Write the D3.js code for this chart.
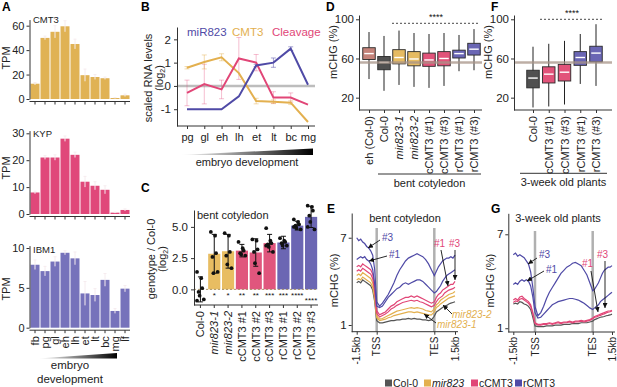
<!DOCTYPE html>
<html><head><meta charset="utf-8">
<script src="https://cdn.jsdelivr.net/npm/d3@7"></script>
<style>
body{margin:0;background:#fff;}
svg{font-family:"Liberation Sans",Arial,sans-serif;}
</style></head><body>
<svg id="c" width="617" height="387"></svg>
<script>
// ================= DATA =================
// Panel A
const stagesA = ["fb","pg","gl","eh","lh","et","lt","bc","mg","lf"];
const cmt3TPM    = [12.5,50,55,59.5,45,19.5,18,17,0.8,3];
const cmt3TPMErr = [1,1.5,5,4.5,4,5,2,1,0.3,1];
const kypTPM     = [8,21,21,28,22,12,10.5,9,0.5,1.5];
const kypTPMErr  = [0.5,0.7,1,1,1,2,1.5,1.5,0.2,0.4];
const ibm1TPM    = [7.9,7.1,8.3,9.4,8.7,4.3,4.1,6.0,2.1,4.9];
const ibm1TPMErr = [0.6,0.6,0.6,0.25,0.8,1.5,0.8,0.8,0.3,0.4];
const cmt3Ticks = [0,20,40,60];
const kypTicks  = [0,10,20,30];
const ibm1Ticks = [0,5,10];

// Panel B
const stagesB = ["pg","gl","eh","lh","et","lt","bc","mg"];
const miR823   = [-1,-1,-1,-0.45,0.88,1.0,1.6,0.05];
const miR823Err= [0,0,0,0,0.05,0.2,0.08,0];
const cmt3B    = [0.78,1.03,1.23,0.55,-0.65,-0.68,-0.72,-1.55];
const cmt3BErr = [0.05,0.3,0.15,0,0.12,0.08,0.08,0];
const cleavage = [-0.3,0.08,-0.15,1.18,1.0,-0.5,-0.5,-0.8];
const cleavErr = [0.55,0.85,0.4,0.9,0.35,0.25,0.2,0];
const bTicks = [-1,0,1,2];

// Panel C
const cCats = ["Col-0","mir823-1","mir823-2","cCMT3 #1","cCMT3 #2","cCMT3 #3","rCMT3 #1","rCMT3 #2","rCMT3 #3"];
const cMean = [0,2.85,3.05,3.1,2.95,3.7,3.75,5.1,5.8];
const cSD   = [1.0,1.55,1.35,0.5,1.1,0.7,0.5,0.35,0.85];
const cPoints = [
  [1.4,0.9,0.1,-0.2,-0.5,-0.8,-0.9],
  [4.6,4.3,2.9,2.6,1.3,1.4],
  [4.5,4.3,3.0,2.7,2.0,1.7],
  [3.8,3.3,3.1,2.9,2.8,2.7],
  [4.0,3.9,3.2,3.0,2.1,1.3],
  [4.9,3.9,3.7,3.6,3.4,3.0,3.5],
  [4.1,3.9,3.8,3.7,3.5,3.5],
  [5.6,5.4,5.2,5.1,4.9,4.8,5.0],
  [6.7,6.6,6.3,5.9,5.4,4.8,5.0]
];
const cStars = ["","*","*","**","**","***","***","****","****"];
const cTicks = [0,2.5,5];

// Panel D
const dCats = ["eh (Col-0)","Col-0","mir823-1","mir823-2","cCMT3 (#1)","cCMT3 (#3)","rCMT3 (#1)","rCMT3 (#3)"];
const dMed = [65,56,61,59.5,58.5,60,65,69.5];
const dQ1  = [59,48.5,54.5,52.5,52,52.5,60.5,63.5];
const dQ3  = [71,62,69,67,65.5,67,68.5,75.5];
const dLo  = [39,27,33,31,30,32,47,48];
const dHi  = [87,83,88.5,86,85,86,84,90];

// Panel F
const fCats = ["Col-0","cCMT3 (#1)","cCMT3 (#3)","rCMT3 (#1)","rCMT3 (#3)"];
const fMed = [40,44,46,61,65.5];
const fQ1  = [30,35,37,53,56.5];
const fQ3  = [48,51.5,54,67,72.5];
const fLo  = [10,11,13,34,32];
const fHi  = [72,75,78,85,95];
const mchgTicks = [20,60,100];
const colMedianRef = 56;

// Panels E / G : metaplot bins (0 = -1.5kb, 10 = TSS, 30 = TES, 40 = +1.5kb)
const profileTickPos = [0,10,30,40];
const profileTicks = ["-1.5kb","TSS","TES","1.5kb"];
const eCol0   = [3.9,4.0,3.9,4.1,4.0,3.9,3.8,3.7,3.4,2.6,1.3, 1.15,1.15,1.2,1.25,1.3,1.3,1.35,1.35,1.4,1.4,1.45,1.4,1.45,1.4,1.4,1.35,1.35,1.3,1.35, 1.6, 1.9,2.0,2.1,2.2,2.3,2.35,2.45,2.5,2.55,2.6];
const eMir1   = [4.1,4.2,4.1,4.3,4.2,4.1,4.0,3.9,3.6,2.8,1.5, 1.3,1.35,1.4,1.5,1.55,1.65,1.7,1.75,1.8,1.85,1.9,1.9,1.85,1.9,1.85,1.8,1.75,1.7,1.7, 1.9, 2.2,2.3,2.45,2.55,2.65,2.75,2.85,2.9,2.95,3.0];
const eMir2   = [4.4,4.5,4.4,4.6,4.5,4.4,4.3,4.2,3.9,3.0,1.6, 1.4,1.45,1.55,1.65,1.75,1.85,1.95,2.0,2.05,2.1,2.15,2.2,2.15,2.2,2.15,2.1,2.0,1.95,1.9, 2.1, 2.4,2.5,2.7,2.8,2.9,3.0,3.1,3.15,3.2,3.3];
const eC1     = [4.7,4.8,4.7,4.9,4.8,4.7,4.6,4.5,4.2,3.3,1.8, 1.55,1.65,1.75,1.9,2.1,2.2,2.35,2.45,2.55,2.6,2.65,2.7,2.65,2.7,2.6,2.55,2.45,2.35,2.25, 2.35, 2.6,2.8,2.9,3.0,3.2,3.3,3.4,3.45,3.5,3.6];
const eC3     = [5.0,5.1,5.0,5.2,5.1,5.0,4.9,4.8,4.5,3.6,2.0, 1.7,1.8,1.9,2.1,2.3,2.4,2.6,2.7,2.8,2.9,2.9,3.0,2.9,3.0,2.9,2.8,2.7,2.6,2.5, 2.6, 2.9,3.1,3.2,3.4,3.5,3.6,3.7,3.8,3.8,4.0];
const eR1     = [5.5,5.6,5.7,5.6,5.7,5.5,5.4,5.2,4.8,3.8,2.3, 2.2,2.3,2.6,2.9,3.1,3.3,3.5,3.6,3.8,3.9,3.8,3.9,4.0,4.1,4.1,4.0,3.8,3.6,3.4, 3.2, 3.3,3.5,3.7,4.0,4.2,4.4,4.5,4.6,4.7,4.8];
const eR3     = [7.0,6.8,6.9,6.7,6.6,6.4,6.3,6.1,5.8,4.8,2.6, 2.3,2.5,2.8,3.1,3.5,3.9,4.4,4.8,5.1,5.4,5.6,5.7,5.8,5.9,5.8,5.7,5.5,5.2,4.8, 4.4, 4.7,5.0,5.2,5.4,5.5,5.6,5.6,5.7,5.6,5.8];
const gCol0   = [2.55,2.6,2.55,2.7,2.65,2.55,2.5,2.4,2.2,1.7,1.15, 1.1,1.1,1.1,1.15,1.15,1.15,1.2,1.2,1.2,1.25,1.25,1.25,1.3,1.3,1.3,1.35,1.35,1.35,1.4, 1.45, 1.55,1.6,1.65,1.7,1.72,1.75,1.8,1.82,1.85,1.9];
const gC1     = [2.65,2.75,2.7,2.85,2.9,2.8,2.7,2.6,2.4,1.9,1.3, 1.2,1.2,1.25,1.25,1.3,1.25,1.3,1.35,1.3,1.35,1.35,1.4,1.35,1.4,1.4,1.45,1.4,1.45,1.5, 1.6, 1.7,1.72,1.78,1.82,1.88,1.92,1.98,2.02,2.05,2.1];
const gC3     = [2.8,2.9,2.8,3.0,3.05,2.9,2.8,2.7,2.5,2.0,1.35, 1.25,1.25,1.3,1.3,1.35,1.3,1.35,1.4,1.35,1.4,1.4,1.45,1.4,1.45,1.45,1.5,1.45,1.5,1.55, 1.65, 1.75,1.8,1.85,1.9,1.95,2.0,2.05,2.1,2.1,2.15];
const gR1     = [3.8,3.9,3.8,4.0,4.1,4.0,4.1,4.0,3.7,3.0,2.0, 1.65,1.7,1.9,2.1,2.3,2.5,2.6,2.7,2.75,2.8,2.85,2.9,2.9,2.85,2.8,2.7,2.6,2.45,2.3, 2.2, 2.3,2.4,2.5,2.7,2.8,2.9,3.0,3.1,3.2,3.3];
const gR3     = [5.7,5.8,5.6,5.7,5.6,5.5,5.3,5.1,4.6,3.6,2.4, 1.8,2.0,2.4,2.9,3.3,3.6,3.9,4.2,4.5,4.7,4.9,5.0,5.15,5.2,5.1,5.0,4.7,4.4,3.9, 3.4, 3.5,3.7,3.9,4.2,4.5,4.7,4.8,4.9,4.9,5.0];
const profileYTicks = [1,7];
const legendNames = ["Col-0","mir823","cCMT3","rCMT3"];

// ================= STYLE =================
const C = {
  gold:"#e3b04f", pink:"#e14677", blueLine:"#4f4aa6", gray:"#555555",
  aGold:"#e0b254", aPink:"#e0487a", aBlue:"#7672bb",
  cGold:"#e8bd62", cPink:"#e0567d", cBlue:"#6b66b3",
  boxEh:"#c5837a", boxCol:"#505050", boxGold:"#e6bb62", boxPink:"#e2537a", boxBlue:"#6a66b4"
};
const FONT = "'Liberation Sans', Arial, sans-serif";
const svg = d3.select("#c");
const defs = svg.append("defs");
const grad = defs.append("linearGradient").attr("id","wedge");
grad.append("stop").attr("offset","0%").attr("stop-color","#ffffff");
grad.append("stop").attr("offset","100%").attr("stop-color","#000000");
defs.append("marker").attr("id","arr").attr("viewBox","0 0 6 6").attr("refX",6).attr("refY",3)
  .attr("markerWidth",5).attr("markerHeight",5).attr("markerUnits","userSpaceOnUse").attr("orient","auto")
  .append("path").attr("d","M0,0L6,3L0,6Z").attr("fill","#111");

function styleAxis(g, fs){
  g.selectAll("text").attr("font-size",fs||11).attr("fill","#222").attr("font-family",FONT);
  g.selectAll("line").attr("stroke","#333");
  g.selectAll("path").attr("stroke","#333");
}
function txt(x,y,s,o){
  o=o||{};
  return svg.append("text").attr("x",x).attr("y",y).text(s)
    .attr("font-size",o.fs||11).attr("fill",o.fill||"#222").attr("text-anchor",o.anchor||"start")
    .attr("font-weight",o.bold?"bold":"normal").attr("font-style",o.italic?"italic":"normal");
}
function vtxt(x,y,s,o){
  o=o||{};
  return svg.append("text").attr("transform",`translate(${x},${y}) rotate(-90)`).text(s)
    .attr("font-size",o.fs||11).attr("fill",o.fill||"#222").attr("text-anchor",o.anchor||"middle")
    .attr("font-style",o.italic?"italic":"normal");
}
function log2Label(x, cy){
  const t = svg.append("text").attr("transform",`translate(${x},${cy+13}) rotate(-90)`)
    .attr("font-size",11).attr("fill","#222").attr("text-anchor","start");
  t.append("tspan").text("(log");
  t.append("tspan").text("2").attr("font-size",7).attr("dy",2);
  t.append("tspan").text(")").attr("dy",-2);
}
function isItalic(s){return /^mir823/.test(s);}

// ================= PANEL A =================
const xA = d3.scaleBand().domain(stagesA).range([30,130]).paddingInner(0.1).paddingOuter(0.05);
function panelA(name, vals, errs, ticks, y0, ppu, topVal, color, showX, nameY, tpmY){
  const y = d3.scaleLinear().domain([0,topVal]).range([y0, y0-topVal*ppu]);
  const g = svg.append("g");
  g.selectAll("rect").data(vals).join("rect")
    .attr("x",(d,i)=>xA(stagesA[i])).attr("width",xA.bandwidth())
    .attr("y",d=>y(d)).attr("height",d=>y(0)-y(d)).attr("fill",color);
  const eg = g.append("g").attr("stroke","#f6ecef").attr("stroke-width",1);
  vals.forEach((v,i)=>{
    const cx = xA(stagesA[i])+xA.bandwidth()/2;
    eg.append("line").attr("x1",cx).attr("x2",cx).attr("y1",y(v+errs[i])).attr("y2",y(Math.max(0,v-errs[i])));
    eg.append("line").attr("x1",cx-1.5).attr("x2",cx+1.5).attr("y1",y(v+errs[i])).attr("y2",y(v+errs[i]));
  });
  const ya = g.append("g").attr("transform","translate(29.5,0)")
    .call(d3.axisLeft(y).tickValues(ticks).tickSize(3).tickPadding(2).tickSizeOuter(0));
  styleAxis(ya,11);
  const xa = g.append("g").attr("transform",`translate(0,${y0+2.5})`)
    .call(d3.axisBottom(xA).tickSize(3).tickSizeOuter(0).tickPadding(3));
  styleAxis(xa,11);
  xa.select(".domain").attr("d",`M29.5,0H130`);
  if(showX){
    xa.selectAll(".tick text").attr("transform","rotate(-90)").attr("text-anchor","end")
      .attr("x",-6).attr("y",0).attr("dy","0.35em");
  } else xa.selectAll(".tick text").remove();
  txt(33,nameY,name,{fs:9.5});
  vtxt(10,tpmY,"TPM");
}
panelA("CMT3", cmt3TPM, cmt3TPMErr, cmt3Ticks, 99, 1.222, 65, C.aGold, false, 23, 58);
panelA("KYP", kypTPM, kypTPMErr, kypTicks, 214, 2.69, 31, C.aPink, false, 137, 168);
panelA("IBM1", ibm1TPM, ibm1TPMErr, ibm1Ticks, 327.7, 7.97, 10.3, C.aBlue, true, 253, 289);
svg.append("path").attr("d","M38,358.5L117,353L117,358.5Z").attr("fill","url(#wedge)");
txt(70,369,"embryo",{anchor:"middle",fs:11.5});
txt(70,383,"development",{anchor:"middle",fs:11.5});
txt(2,11,"A",{bold:true,fs:12,fill:"#000"});

// ================= PANEL B =================
const xB = d3.scalePoint().domain(stagesB).range([187,308]);
const yB = d3.scaleLinear().domain([-1.72,2.53]).range([126,27]);
{
  const g = svg.append("g");
  g.append("line").attr("x1",177).attr("x2",315).attr("y1",yB(0)).attr("y2",yB(0))
    .attr("stroke","#bdbdbd").attr("stroke-width",2.5);
  const series = [
    {v:cleavage,e:cleavErr,c:C.pink,ec:"rgba(225,70,119,0.35)"},
    {v:cmt3B,e:cmt3BErr,c:C.gold,ec:"rgba(227,176,79,0.45)"},
    {v:miR823,e:miR823Err,c:C.blueLine,ec:"rgba(79,74,166,0.5)"}
  ];
  series.forEach(s=>{
    s.v.forEach((v,i)=>{
      if(!s.e[i]) return;
      const cx=xB(stagesB[i]);
      g.append("line").attr("x1",cx).attr("x2",cx).attr("y1",yB(v+s.e[i])).attr("y2",yB(v-s.e[i])).attr("stroke",s.ec).attr("stroke-width",1);
      [v+s.e[i],v-s.e[i]].forEach(w=>g.append("line").attr("x1",cx-2.5).attr("x2",cx+2.5).attr("y1",yB(w)).attr("y2",yB(w)).attr("stroke",s.ec));
    });
  });
  const line = d3.line().x((d,i)=>xB(stagesB[i])).y(d=>yB(d));
  [{v:cmt3B,c:C.gold},{v:cleavage,c:C.pink},{v:miR823,c:C.blueLine}].forEach(s=>{
    g.append("path").attr("d",line(s.v)).attr("fill","none").attr("stroke",s.c).attr("stroke-width",2);
  });
  const ya = g.append("g").attr("transform","translate(177,0)")
    .call(d3.axisLeft(yB).tickValues(bTicks).tickFormat(d=>String(d)).tickSize(3).tickPadding(3).tickSizeOuter(0));
  styleAxis(ya,11.5);
  const xa = g.append("g").attr("transform","translate(0,126)")
    .call(d3.axisBottom(xB).tickSize(3).tickSizeOuter(0).tickPadding(4));
  styleAxis(xa,11);
  xa.select(".domain").attr("d","M177,0H315");
  txt(187,36,"miR823",{fs:11.5,fill:C.blueLine});
  txt(232,36,"CMT3",{fs:11.5,fill:C.gold});
  txt(272,36,"Cleavage",{fs:11.5,fill:C.pink});
  vtxt(152,78,"scaled RNA levels");
  log2Label(163,78);
  svg.append("path").attr("d","M180,155L313,148.5L313,155Z").attr("fill","url(#wedge)");
  txt(247,166,"embryo development",{anchor:"middle",fs:11});
  txt(141,11,"B",{bold:true,fs:12,fill:"#000"});
}

// ================= PANEL C =================
const xC = d3.scaleBand().domain(cCats).range([193.5,318]).paddingInner(0.12).paddingOuter(0.06);
const yC = d3.scaleLinear().domain([-1.25,6.35]).range([305,210]);
{
  const g = svg.append("g");
  const barCol = i => i===0?"none": i<3?C.cGold: i<6?C.cPink:C.cBlue;
  g.selectAll("rect").data(cMean).join("rect")
    .attr("x",(d,i)=>xC(cCats[i])).attr("width",xC.bandwidth())
    .attr("y",d=>yC(Math.max(d,0))).attr("height",d=>Math.abs(yC(0)-yC(d)))
    .attr("fill",(d,i)=>barCol(i));
  g.append("line").attr("x1",194).attr("x2",318).attr("y1",yC(0)).attr("y2",yC(0))
    .attr("stroke","#a08a5a").attr("stroke-dasharray","2,2").attr("stroke-width",0.9);
  cMean.forEach((m,i)=>{
    const cx = xC(cCats[i])+xC.bandwidth()/2;
    g.append("line").attr("x1",cx).attr("x2",cx).attr("y1",yC(m+cSD[i])).attr("y2",yC(m-cSD[i])).attr("stroke","#111");
    [m+cSD[i],m-cSD[i]].forEach(w=>g.append("line").attr("x1",cx-2.5).attr("x2",cx+2.5).attr("y1",yC(w)).attr("y2",yC(w)).attr("stroke","#111"));
    cPoints[i].forEach((p,j)=>{
      g.append("circle").attr("cx",cx+((j%3)-1)*2.6+(j%2?0.8:-0.8)).attr("cy",yC(p)).attr("r",1.9).attr("fill","#111");
    });
    if(cStars[i]) txt(cx, i===8?303:298, cStars[i],{anchor:"middle",fs:8,fill:"#111"});
  });
  const ya = g.append("g").attr("transform","translate(194,0)")
    .call(d3.axisLeft(yC).tickValues(cTicks).tickFormat(d3.format(".1f")).tickSize(3).tickPadding(3).tickSizeOuter(0));
  styleAxis(ya,11.5);
  const xa = g.append("g").attr("transform","translate(0,305)")
    .call(d3.axisBottom(xC).tickSize(3).tickSizeOuter(0));
  styleAxis(xa,11);
  xa.select(".domain").attr("d","M194,0H318");
  xa.selectAll(".tick text").attr("transform","rotate(-90)").attr("text-anchor","end")
    .attr("x",-6).attr("y",0).attr("dy","0.35em").attr("font-style",d=>isItalic(d)?"italic":"normal");
  txt(197,219,"bent cotyledon",{fs:11});
  vtxt(155,259,"genotype / Col-0");
  log2Label(166,259);
  txt(141,192,"C",{bold:true,fs:12,fill:"#000"});
}

// ================= PANELS D / F (boxplots) =================
function boxPanel(cats, med, q1, q3, lo, hi, xr, axisX, axisEnd, colors, sig, group){
  const x = d3.scalePoint().domain(cats).range(xr);
  const y = d3.scaleLinear().domain([7.4,104.4]).range([110,15]);
  const g = svg.append("g");
  const w = 12.5;
  cats.forEach((c,i)=>{
    const cx=x(c);
    g.append("line").attr("x1",cx).attr("x2",cx).attr("y1",y(hi[i])).attr("y2",y(lo[i])).attr("stroke","#222").attr("stroke-width",1);
    g.append("rect").attr("x",cx-w/2).attr("width",w).attr("y",y(q3[i])).attr("height",y(q1[i])-y(q3[i]))
      .attr("fill",colors[i]).attr("stroke","#2a2a2a").attr("stroke-width",0.9);
    g.append("line").attr("x1",cx-w/2+1.5).attr("x2",cx+w/2-1.5).attr("y1",y(med[i])).attr("y2",y(med[i])).attr("stroke","#fff").attr("stroke-width",1.4);
  });
  g.append("line").attr("x1",axisX).attr("x2",axisEnd).attr("y1",y(colMedianRef)).attr("y2",y(colMedianRef))
    .attr("stroke","#a89488").attr("stroke-width",2.5).attr("opacity",0.75);
  const ya = g.append("g").attr("transform",`translate(${axisX},0)`)
    .call(d3.axisLeft(y).tickValues(mchgTicks).tickSize(3).tickPadding(2).tickSizeOuter(0));
  styleAxis(ya,11.5);
  const xa = g.append("g").attr("transform","translate(0,110)")
    .call(d3.axisBottom(x).tickSize(3).tickSizeOuter(0));
  styleAxis(xa,11);
  xa.select(".domain").attr("d",`M${axisX},0H${axisEnd}`);
  xa.selectAll(".tick text").attr("transform","rotate(-90)").attr("text-anchor","end")
    .attr("x",-6).attr("y",0).attr("dy","0.35em").attr("font-style",d=>isItalic(d)?"italic":"normal");
  g.append("line").attr("x1",sig.x1).attr("x2",sig.x2).attr("y1",sig.y).attr("y2",sig.y)
    .attr("stroke","#333").attr("stroke-dasharray","2,2").attr("stroke-width",0.9);
  txt((sig.x1+sig.x2)/2, sig.y-3, "****",{anchor:"middle",fs:9,fill:"#111"});
  g.append("line").attr("x1",group.x1).attr("x2",group.x2).attr("y1",group.y).attr("y2",group.y).attr("stroke","#333");
  txt((group.x1+group.x2)/2, group.y+13, group.label,{anchor:"middle",fs:11});
  vtxt(axisX-22,52,"mCHG (%)");
}
boxPanel(dCats,dMed,dQ1,dQ3,dLo,dHi,[369,474],359,482,
  [C.boxEh,C.boxCol,C.boxGold,C.boxGold,C.boxPink,C.boxPink,C.boxBlue,C.boxBlue],
  {x1:392,x2:480,y:23.3},{x1:378,x2:481,y:174,label:"bent cotyledon"});
boxPanel(fCats,fMed,fQ1,fQ3,fLo,fHi,[533,596],514,612,
  [C.boxCol,C.boxPink,C.boxPink,C.boxBlue,C.boxBlue],
  {x1:540,x2:604,y:19.3},{x1:520,x2:607,y:173.3,label:"3-week old plants"});
txt(326,11,"D",{bold:true,fs:12,fill:"#000"});
txt(491,11,"F",{bold:true,fs:12,fill:"#000"});

// ================= PANELS E / G (metaplots) =================
function profilePanel(xr, yDom, yRange, axisX, axisEnd, series, title, titleX, titleY, grayTop){
  const x = d3.scaleLinear().domain(profileTickPos).range(xr);
  const y = d3.scaleLinear().domain(yDom).range(yRange);
  const g = svg.append("g");
  const yb = yRange[0];
  [10,30].forEach(p=>g.append("line").attr("x1",x(p)).attr("x2",x(p)).attr("y1",grayTop).attr("y2",yb)
    .attr("stroke","#b0b0b0").attr("stroke-width",2.5));
  const line = d3.line().x((d,i)=>x(i)).y(d=>y(d));
  series.forEach(s=>g.append("path").attr("d",line(s.v)).attr("fill","none").attr("stroke",s.c).attr("stroke-width",1.2));
  const ya = g.append("g").attr("transform",`translate(${axisX},0)`)
    .call(d3.axisLeft(y).tickValues(profileYTicks).tickSize(3).tickPadding(2).tickSizeOuter(0));
  styleAxis(ya,11.5);
  const xa = g.append("g").attr("transform",`translate(0,${yb})`)
    .call(d3.axisBottom(x).tickValues(profileTickPos).tickFormat((d,i)=>profileTicks[i]).tickSize(3).tickSizeOuter(0));
  styleAxis(xa,10);
  xa.select(".domain").attr("d",`M${axisX},0H${axisEnd}`);
  xa.selectAll(".tick text").attr("transform","rotate(-90)").attr("text-anchor","end")
    .attr("x",-5).attr("y",0).attr("dy","0.3em");
  txt(titleX,titleY,title,{anchor:"middle",fs:11});
  vtxt(axisX-14,(yRange[0]+yRange[1])/2+8,"mCHG (%)");
}
function arrow(x1,y1,x2,y2){
  svg.append("line").attr("x1",x1).attr("y1",y1).attr("x2",x2).attr("y2",y2)
    .attr("stroke","#111").attr("stroke-width",0.9).attr("marker-end","url(#arr)");
}
profilePanel([356.7,376.7,434.3,455],[0.54,8.7],[331.7,213],351.7,458,
  [{v:eCol0,c:C.gray},{v:eMir1,c:C.gold},{v:eMir2,c:C.gold},{v:eC1,c:C.pink},{v:eC3,c:C.pink},{v:eR1,c:C.blueLine},{v:eR3,c:C.blueLine}],
  "bent cotyledon",405,222,228);
profilePanel([513.3,535,592.7,612],[0.76,8.34],[332,213.3],508.3,615,
  [{v:gCol0,c:C.gray},{v:gC1,c:C.pink},{v:gC3,c:C.pink},{v:gR1,c:C.blueLine},{v:gR3,c:C.blueLine}],
  "3-week old plants",558,222,231);
// annotations E
txt(382,241,"#3",{fs:10,fill:C.blueLine}); arrow(380,240,368,248);
txt(389,258,"#1",{fs:10,fill:C.blueLine}); arrow(387,256,369,261);
txt(434,247,"#1",{fs:10,fill:C.pink}); arrow(441,250,448,286);
txt(449,247,"#3",{fs:10,fill:C.pink}); arrow(455,250,455,280);
txt(452,318,"mir823-2",{fs:10,fill:C.gold,italic:true}); arrow(452,314,443,305);
txt(437,328,"mir823-1",{fs:10,fill:C.gold,italic:true}); arrow(436,323,424,314);
// annotations G
txt(539,258,"#3",{fs:10,fill:C.blueLine}); arrow(537,258,528,264);
txt(546,273,"#1",{fs:10,fill:C.blueLine}); arrow(544,271,527,281);
txt(582,267,"#1",{fs:10,fill:C.pink}); arrow(591,271,598,312);
txt(597,258,"#3",{fs:10,fill:C.pink}); arrow(605,261,605,308);
txt(327,213,"E",{bold:true,fs:12,fill:"#000"});
txt(491,213,"G",{bold:true,fs:12,fill:"#000"});

// legend
{
  const lx=[385,424,471,515], cols=[C.gray,C.gold,C.pink,C.blueLine];
  legendNames.forEach((n,i)=>{
    svg.append("rect").attr("x",lx[i]).attr("y",379.5).attr("width",7).attr("height",7).attr("fill",cols[i]);
    txt(lx[i]+8,386.5,n,{fs:10.5,italic:n==="mir823"});
  });
}
</script>
</body></html>
